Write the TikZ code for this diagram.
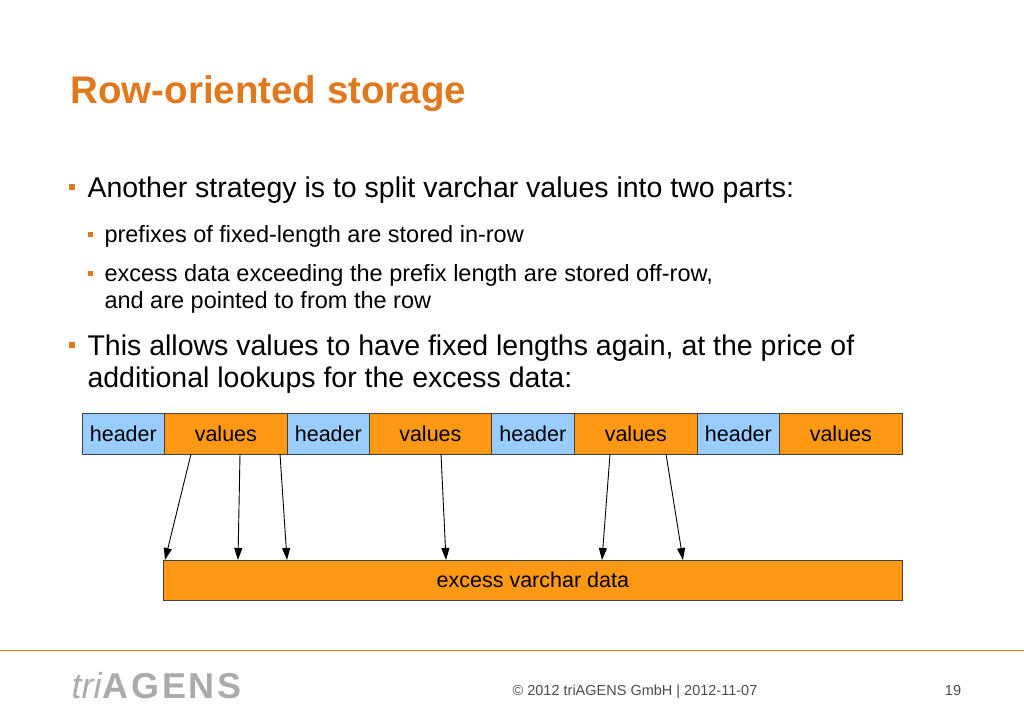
\documentclass[tikz,border=0pt]{standalone}
\usepackage{fontspec}
\setmainfont{Liberation Sans}
\usetikzlibrary{arrows.meta}
\definecolor{tor}{RGB}{224,120,30}
\definecolor{bor}{RGB}{255,153,20}
\definecolor{bbl}{RGB}{153,204,255}
\definecolor{lgr}{RGB}{170,172,172}
\begin{document}
\begin{tikzpicture}[x=1pt,y=-1pt,
  cell/.style={draw=black!75,line width=0.7pt,inner sep=0,minimum height=41pt,font=\fontsize{21.5}{21.5}\selectfont,anchor=west},
  hdr/.style={cell,fill=bbl},
  val/.style={cell,fill=bor},
  ptr/.style={-{Triangle[length=12pt,width=8pt]},line width=0.9pt},
  bul/.style={fill=tor,minimum size=6pt,inner sep=0}]
\useasboundingbox (0,0) rectangle (1024,717);
\node[anchor=base west,text=tor,font=\bfseries\fontsize{38.5}{38.5}\selectfont] (title) at (67,103) {Row-oriented storage};
\node[bul] (b1) at (72,187) {};
\node[anchor=base west,font=\fontsize{28.5}{28.5}\selectfont] (t1) at (84,197) {Another strategy is to split varchar values into two parts:};
\node[bul,minimum size=5pt] (b2) at (90,234) {};
\node[anchor=base west,font=\fontsize{23.5}{23.5}\selectfont] (t2) at (101,242) {prefixes of fixed-length are stored in-row};
\node[bul,minimum size=5pt] (b3) at (90,273) {};
\node[anchor=base west,font=\fontsize{23.5}{23.5}\selectfont] (t3) at (101,281) {excess data exceeding the prefix length are stored off-row,};
\node[anchor=base west,font=\fontsize{23.5}{23.5}\selectfont] (t3b) at (101,308) {and are pointed to from the row};
\node[bul] (b4) at (72,345) {};
\node[anchor=base west,font=\fontsize{28.5}{28.5}\selectfont] (t4) at (84,355) {This allows values to have fixed lengths again, at the price of};
\node[anchor=base west,font=\fontsize{28.5}{28.5}\selectfont] (t4b) at (84,387) {additional lookups for the excess data:};
% row
\node[hdr,minimum width=82pt] (h1) at (82,433.5) {header};
\node[val,minimum width=123pt] (v1) at (164,433.5) {values};
\node[hdr,minimum width=82pt] (h2) at (287,433.5) {header};
\node[val,minimum width=122pt] (v2) at (369,433.5) {values};
\node[hdr,minimum width=83pt] (h3) at (491,433.5) {header};
\node[val,minimum width=123pt] (v3) at (574,433.5) {values};
\node[hdr,minimum width=82pt] (h4) at (697,433.5) {header};
\node[val,minimum width=123pt] (v4) at (779,433.5) {values};
\node[val,minimum width=739pt,minimum height=40pt] (ex) at (163,580) {excess varchar data};
\foreach \n/\a/\b in {1/191/165,2/240/238,3/280/287,4/441/446,5/610/602,6/666/683}{
  \coordinate (s\n) at (\a,454);
  \coordinate (e\n) at (\b,560);
  \draw[ptr] (s\n) -- (e\n);
}
% footer
\draw[tor,line width=1pt] (0,650) -- (1024,650);
\node[anchor=base west,text=lgr,font=\fontsize{36}{36}\selectfont] (logo) at (68,698) {\textit{tri}\addfontfeature{LetterSpace=8}\textbf{AGENS}};
\node[anchor=base,text=black!70,font=\fontsize{14.5}{14.5}\selectfont] (copy) at (635,695) {© 2012 triAGENS GmbH | 2012-11-07};
\node[anchor=base,text=black!70,font=\fontsize{14.5}{14.5}\selectfont] (pg) at (953,695) {19};
\end{tikzpicture}
\end{document}
